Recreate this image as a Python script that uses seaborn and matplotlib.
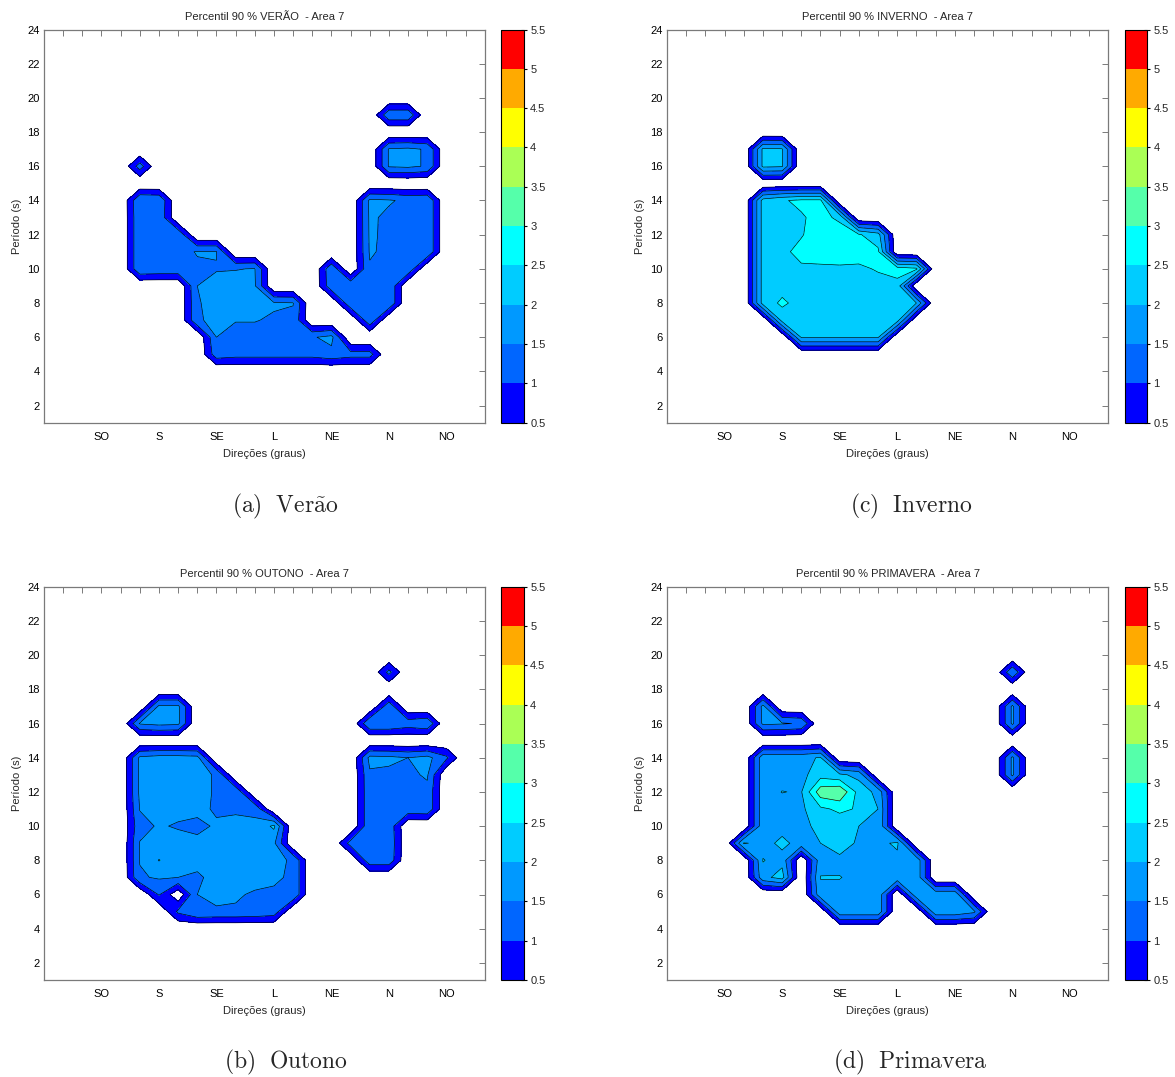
import numpy as np
import matplotlib
matplotlib.use("Agg")
import matplotlib.pyplot as plt
import matplotlib.ticker as mticker
import seaborn as sns
from matplotlib.colors import ListedColormap, BoundaryNorm

sns.set_style("white")
plt.rcParams["font.family"] = ["Liberation Sans", "DejaVu Sans"]
plt.rcParams["mathtext.fontset"] = "cm"

# ---------------- data ----------------
directions = np.arange(0, 24)          # direction bins (axis index)
periods = np.arange(1, 25)             # wave period (s)
dir_tick_pos = [3, 6, 9, 12, 15, 18, 21]
dir_labels = ["SO", "S", "SE", "L", "NE", "N", "NO"]
levels = [0.5, 1.0, 1.5, 2.0, 2.5, 3.0, 3.5, 4.0, 4.5, 5.0, 5.5]
level_labels = ["0.5", "1", "1.5", "2", "2.5", "3", "3.5", "4", "4.5", "5", "5.5"]
level_colors = ["#0000ff", "#0066ff", "#0099ff", "#00ccff", "#00ffff",
                "#55ffaa", "#aaff55", "#ffff00", "#ffaa00", "#ff0000"]

# sparse rows: period -> [(first direction index, [values...]), ...]
verao = {
    19: [(18, [1.4, 1.4])],
    17: [(18, [1.55, 1.6, 1.45])],
    16: [(5, [1.25]), (18, [1.55, 1.6, 1.45])],
    14: [(5, [1.5, 1.45]), (17, [1.6, 1.55, 1.4, 1.45])],
    13: [(5, [1.45, 1.4]), (17, [1.58, 1.4, 1.4, 1.45])],
    12: [(5, [1.45, 1.4, 1.4]), (17, [1.57, 1.4, 1.4, 1.45])],
    11: [(5, [1.45, 1.4, 1.4, 1.52, 1.52]), (17, [1.55, 1.4, 1.4, 1.45])],
    10: [(5, [1.45, 1.4, 1.4, 1.45, 1.48, 1.48, 1.52]), (15, [1.4]), (17, [1.45, 1.4, 1.4])],
    9: [(8, [1.5, 1.6, 1.7, 1.55]), (15, [1.35, 1.4, 1.4, 1.45])],
    8: [(8, [1.45, 1.7, 1.8, 1.7, 1.55, 1.52]), (16, [1.4, 1.4, 1.45])],
    7: [(8, [1.45, 1.6, 1.52, 1.52, 1.45, 1.4]), (17, [1.4])],
    6: [(9, [1.5, 1.35, 1.35, 1.35, 1.35, 1.45, 1.65])],
    5: [(9, [1.3, 1.2, 1.2, 1.2, 1.2, 1.2, 1.35, 1.2, 1.2])],
}
inverno = {
    17: [(5, [2.1, 2.05])],
    16: [(5, [2.1, 2.05])],
    14: [(5, [2.2, 2.45, 2.6, 2.6])],
    13: [(5, [2.2, 2.3, 2.45, 2.65, 2.4])],
    12: [(5, [2.2, 2.3, 2.45, 2.85, 2.75, 2.55, 2.2])],
    11: [(5, [2.2, 2.35, 2.7, 2.9, 2.85, 2.75, 2.6])],
    10: [(5, [2.2, 2.3, 2.4, 2.35, 2.4, 2.4, 2.55, 2.75, 2.6])],
    9: [(5, [2.2, 2.3, 2.3, 2.3, 2.3, 2.3, 2.3, 2.3])],
    8: [(5, [2.2, 2.6, 2.3, 2.3, 2.3, 2.3, 2.3, 2.3, 2.0])],
    7: [(6, [2.2, 2.3, 2.3, 2.3, 2.3, 2.3, 2.2])],
    6: [(7, [2.05, 2.05, 2.05, 2.05, 2.05])],
}
outono = {
    19: [(18, [1.15])],
    17: [(6, [1.6, 1.6]), (18, [1.35])],
    16: [(5, [1.55, 1.65, 1.6]), (17, [1.5, 1.5, 1.3, 1.45])],
    14: [(5, [1.6, 1.7, 1.7, 1.65]), (17, [1.65, 1.62, 1.5, 1.65, 1.1])],
    13: [(5, [1.6, 1.7, 1.7, 1.65, 1.45]), (17, [1.42, 1.38, 1.4, 1.56])],
    12: [(5, [1.6, 1.7, 1.7, 1.65, 1.45, 1.4]), (17, [1.4, 1.35, 1.35, 1.38])],
    11: [(5, [1.52, 1.6, 1.65, 1.6, 1.45, 1.45, 1.4]), (17, [1.4, 1.35, 1.35, 1.4])],
    10: [(5, [1.35, 1.55, 1.45, 1.4, 1.55, 1.6, 1.6, 2.1]), (17, [1.4, 1.35])],
    9: [(5, [1.52, 1.7, 1.7, 1.6, 1.7, 1.7, 1.65, 1.6]), (16, [1.2, 1.35, 1.4])],
    8: [(5, [1.52, 2.02, 1.7, 1.7, 1.7, 1.7, 1.7, 1.6, 1.45]), (17, [1.35, 1.35])],
    7: [(5, [1.45, 1.55, 1.5, 1.4, 1.7, 1.7, 1.65, 1.55, 1.45])],
    6: [(6, [1.05, 0.1, 1.5, 1.6, 1.55, 1.45, 1.45, 1.45])],
    5: [(7, [1.1, 1.5, 1.45, 1.45, 1.4, 1.3])],
}
primavera = {
    19: [(18, [1.45])],
    17: [(5, [1.65]), (18, [1.6])],
    16: [(5, [1.6, 1.55, 1.45]), (18, [1.6])],
    14: [(5, [1.85, 1.85, 1.85, 2.05]), (18, [1.6])],
    13: [(5, [1.85, 1.85, 1.85, 2.3, 2.1, 1.85]), (18, [1.6])],
    12: [(5, [1.85, 2.01, 1.97, 3.3, 3.45, 2.3, 1.85])],
    11: [(5, [1.85, 1.85, 1.9, 2.4, 2.6, 2.45, 2.0])],
    10: [(5, [1.85, 1.85, 1.85, 2.15, 2.2, 2.0, 1.95])],
    9: [(4, [2.05, 1.85, 2.1, 1.85, 2.0, 2.3, 1.9, 1.85, 2.1])],
    8: [(5, [2.02, 1.85]), (8, [1.8, 1.85, 1.85, 1.85, 1.85, 1.85])],
    7: [(5, [1.85, 2.2]), (8, [2.02, 2.02, 1.85, 1.85, 1.85, 1.85])],
    6: [(8, [1.85, 1.85, 1.85, 1.85]), (13, [1.85, 1.85, 1.85])],
    5: [(9, [1.85, 1.85, 1.85]), (14, [1.85, 1.85, 1.6])],
}

panels = [
    ("VERÃO", verao, r"$\mathrm{(a)\ \ Ver\tilde{a}o}$"),
    ("INVERNO", inverno, r"$\mathrm{(c)\ \ Inverno}$"),
    ("OUTONO", outono, r"$\mathrm{(b)\ \ Outono}$"),
    ("PRIMAVERA", primavera, r"$\mathrm{(d)\ \ Primavera}$"),
]


def build_grid(rows):
    z = np.zeros((len(periods), len(directions)))
    for per, segs in rows.items():
        for x0, vals in segs:
            z[per - periods[0], x0:x0 + len(vals)] = vals
    return z


# ---------------- figure ----------------
W, H = 1175, 1077
fig = plt.figure(figsize=(W / 100, H / 100), dpi=100)
fig.patch.set_facecolor("white")

cmap = ListedColormap(level_colors)
norm = BoundaryNorm(levels, cmap.N)

# pixel boxes: (left, top, right, bottom) for axes ; colorbar left/right
ax_boxes = [(44, 29.5, 484.7, 422.7), (667, 29.5, 1108.3, 422.7),
            (44, 586.7, 484.7, 980), (667, 586.7, 1108.3, 980)]
cb_boxes = [(500.7, 524), (1124.7, 1147.3), (500.7, 524), (1124.7, 1147.3)]
cap_pos = [(285, 506), (911, 506), (286, 1062), (910, 1062)]

gray = "#7a7a7a"
X, Y = np.meshgrid(directions, periods)

for (name, rows, caption), (l, t, r, b), (cl, cr), (cx, cy) in zip(
        panels, ax_boxes, cb_boxes, cap_pos):
    ax = fig.add_axes([l / W, 1 - b / H, (r - l) / W, (b - t) / H])
    Z = build_grid(rows)
    cf = ax.contourf(X, Y, Z, levels=levels, cmap=cmap, norm=norm)
    ax.contour(X, Y, Z, levels=levels, colors="k", linewidths=0.45)
    ax.set_xlim(0, 23)
    ax.set_ylim(1, 24)
    xt = np.arange(1, 23)
    ax.set_xticks(xt)
    ax.set_xticklabels([dir_labels[dir_tick_pos.index(v)] if v in dir_tick_pos else ""
                        for v in xt])
    ax.set_yticks(np.arange(2, 25, 2))
    ax.tick_params(axis="both", which="both", direction="in", length=4, width=0.7,
                   color=gray, labelsize=8, top=True, right=True,
                   labelcolor="black", pad=3)
    ax.tick_params(axis="x", pad=6.5)
    for sp in ax.spines.values():
        sp.set_color(gray)
        sp.set_linewidth(0.9)
    ax.set_xlabel("Direções (graus)", fontsize=8, labelpad=5)
    ax.set_ylabel("Período (s)", fontsize=8, labelpad=4)
    ax.set_title(f"Percentil 90 % {name}  - Area 7", fontsize=8, pad=7)

    cax = fig.add_axes([cl / W, 1 - b / H, (cr - cl) / W, (b - t) / H])
    cb = fig.colorbar(cf, cax=cax, ticks=levels,
                      format=mticker.FixedFormatter(level_labels))
    cb.ax.yaxis.set_major_locator(mticker.FixedLocator(levels))
    cb.ax.yaxis.set_major_formatter(mticker.FixedFormatter(level_labels))
    cb.ax.tick_params(labelsize=8, direction="inout", length=5, width=0.8,
                      color="black", pad=2)
    cb.outline.set_edgecolor("black")
    cb.outline.set_linewidth(0.8)

    fig.text(cx / W, 1 - cy / H, caption, ha="center", va="center", fontsize=17)

fig.savefig("out.png", dpi=100, facecolor="white")
